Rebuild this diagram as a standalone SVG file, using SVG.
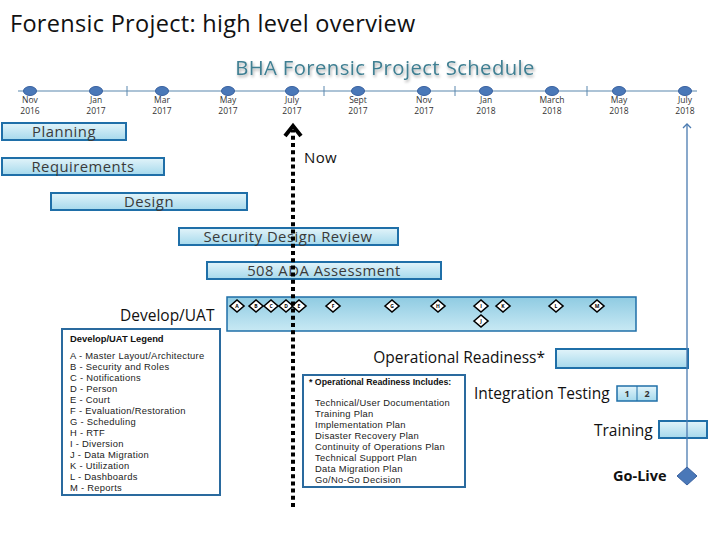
<svg xmlns="http://www.w3.org/2000/svg" width="720" height="540" viewBox="0 0 720 540">
<defs>
<linearGradient id="barG" x1="0" y1="0" x2="0" y2="1">
<stop offset="0" stop-color="#e2f4fa"/><stop offset="1" stop-color="#a6d9ec"/>
</linearGradient>
<linearGradient id="devG" x1="0" y1="0" x2="0" y2="1">
<stop offset="0" stop-color="#8fcbe2"/><stop offset="1" stop-color="#c8e9f4"/>
</linearGradient>
<filter id="sh" x="-10%" y="-30%" width="120%" height="160%">
<feGaussianBlur in="SourceAlpha" stdDeviation="1.5"/><feOffset dx="1" dy="2"/>
<feComponentTransfer><feFuncA type="linear" slope="0.35"/></feComponentTransfer>
<feMerge><feMergeNode/><feMergeNode in="SourceGraphic"/></feMerge>
</filter>
<marker id="openArr" markerWidth="10" markerHeight="10" refX="5" refY="5" orient="auto" markerUnits="userSpaceOnUse">
<path d="M1,1 L5,5 L1,9" fill="none" stroke="#4a7ab0" stroke-width="1.3"/>
</marker>
<symbol id="dia" overflow="visible"><path d="M-7,0 L0,-6 L7,0 L0,6 Z" fill="#fff" stroke="#000" stroke-width="1.6"/></symbol>
</defs>
<style>
text{font-family:"Open Sans","Liberation Sans",Arial,sans-serif;}
.bar{fill:url(#barG);stroke:#1f6fa8;stroke-width:2;}
.bl{font-size:14.8px;fill:#3a3a3a;text-anchor:middle;letter-spacing:0.5px;}
.lab{font-size:15.5px;fill:#111;}
.mo{font-size:8.5px;fill:#333;text-anchor:middle;}
.dot{fill:#4a78b8;stroke:#3a62a0;stroke-width:1;}
.dl{font-size:5px;fill:#000;text-anchor:middle;font-weight:bold;}
.lg{font-family:"Liberation Sans",Arial,sans-serif;font-size:9.4px;fill:#222;letter-spacing:0.28px;}
.lgh{font-family:"Liberation Sans",Arial,sans-serif;font-weight:bold;fill:#111;}
.box{fill:#fff;stroke:#2a6a9e;stroke-width:2;}
</style>
<rect width="720" height="540" fill="#fff"/>
<text x="10" y="32" font-size="23.5" fill="#111" letter-spacing="0.3">Forensic Project: high level overview</text>
<text x="385" y="75" font-size="20.3" fill="#3f7f92" text-anchor="middle" letter-spacing="0.4" filter="url(#sh)">BHA Forensic Project Schedule</text>

<g id="timeline">
<line x1="18" y1="91" x2="697" y2="91" stroke="#5b87ae" stroke-width="1.2"/>
<line x1="127" y1="86" x2="127" y2="96" stroke="#5b87ae" stroke-width="1"/>
<line x1="324" y1="86" x2="324" y2="96" stroke="#5b87ae" stroke-width="1"/>
<line x1="455" y1="86" x2="455" y2="96" stroke="#5b87ae" stroke-width="1"/>
<line x1="587" y1="86" x2="587" y2="96" stroke="#5b87ae" stroke-width="1"/>
<ellipse class="dot" cx="30" cy="91" rx="6.5" ry="4.5"/>
<ellipse class="dot" cx="96" cy="91" rx="6.5" ry="4.5"/>
<ellipse class="dot" cx="162" cy="91" rx="6.5" ry="4.5"/>
<ellipse class="dot" cx="228" cy="91" rx="6.5" ry="4.5"/>
<ellipse class="dot" cx="292" cy="91" rx="6.5" ry="4.5"/>
<ellipse class="dot" cx="358" cy="91" rx="6.5" ry="4.5"/>
<ellipse class="dot" cx="424" cy="91" rx="6.5" ry="4.5"/>
<ellipse class="dot" cx="486" cy="91" rx="6.5" ry="4.5"/>
<ellipse class="dot" cx="552" cy="91" rx="6.5" ry="4.5"/>
<ellipse class="dot" cx="619" cy="91" rx="6.5" ry="4.5"/>
<ellipse class="dot" cx="685" cy="91" rx="6.5" ry="4.5"/>
<text class="mo" x="30" y="103">Nov</text><text class="mo" x="30" y="114">2016</text>
<text class="mo" x="96" y="103">Jan</text><text class="mo" x="96" y="114">2017</text>
<text class="mo" x="162" y="103">Mar</text><text class="mo" x="162" y="114">2017</text>
<text class="mo" x="228" y="103">May</text><text class="mo" x="228" y="114">2017</text>
<text class="mo" x="292" y="103">July</text><text class="mo" x="292" y="114">2017</text>
<text class="mo" x="358" y="103">Sept</text><text class="mo" x="358" y="114">2017</text>
<text class="mo" x="424" y="103">Nov</text><text class="mo" x="424" y="114">2017</text>
<text class="mo" x="486" y="103">Jan</text><text class="mo" x="486" y="114">2018</text>
<text class="mo" x="552" y="103">March</text><text class="mo" x="552" y="114">2018</text>
<text class="mo" x="619" y="103">May</text><text class="mo" x="619" y="114">2018</text>
<text class="mo" x="685" y="103">July</text><text class="mo" x="685" y="114">2018</text>
</g>

<g id="planning"><rect class="bar" x="2" y="123" width="124" height="17"/><text class="bl" x="64" y="137">Planning</text></g>
<g id="requirements"><rect class="bar" x="2" y="158" width="162" height="17"/><text class="bl" x="83" y="172">Requirements</text></g>
<g id="design"><rect class="bar" x="51" y="193" width="196" height="17"/><text class="bl" x="149" y="207">Design</text></g>
<g id="security"><rect class="bar" x="179" y="228" width="219" height="17"/><text class="bl" x="288" y="242">Security Design Review</text></g>
<g id="ada"><rect class="bar" x="207" y="262" width="234" height="17"/><text class="bl" x="324" y="276">508 ADA Assessment</text></g>

<g id="develop">
<text class="lab" x="120" y="321" font-size="16.5">Develop/UAT</text>
<rect x="227" y="297" width="409" height="34" fill="url(#devG)" stroke="#1f6fa8" stroke-width="1.5"/>
<use href="#dia" x="237" y="306"/><text class="dl" x="237" y="308">A</text>
<use href="#dia" x="256" y="306"/><text class="dl" x="256" y="308">B</text>
<use href="#dia" x="271" y="306"/><text class="dl" x="271" y="308">C</text>
<use href="#dia" x="286" y="306"/><text class="dl" x="286" y="308" fill="#8a3a00">D</text>
<use href="#dia" x="299" y="306"/><text class="dl" x="299" y="308" fill="#8a3a00">E</text>
<use href="#dia" x="333" y="306"/><text class="dl" x="333" y="308">F</text>
<use href="#dia" x="392" y="306"/><text class="dl" x="392" y="308">G</text>
<use href="#dia" x="438" y="306"/><text class="dl" x="438" y="308">H</text>
<use href="#dia" x="481" y="306"/><text class="dl" x="481" y="308">I</text>
<use href="#dia" x="503" y="306"/><text class="dl" x="503" y="308">K</text>
<use href="#dia" x="556" y="306"/><text class="dl" x="556" y="308">L</text>
<use href="#dia" x="597" y="306"/><text class="dl" x="597" y="308">M</text>
<use href="#dia" x="481" y="321"/><text class="dl" x="481" y="323">J</text>
</g>

<g id="legend">
<rect class="box" x="62" y="329" width="158" height="166"/>
<text class="lgh" x="70" y="342" font-size="9.4">Develop/UAT Legend</text>
<text class="lg" x="70" y="359">A - Master Layout/Architecture</text>
<text class="lg" x="70" y="370">B - Security and Roles</text>
<text class="lg" x="70" y="381">C - Notifications</text>
<text class="lg" x="70" y="392">D - Person</text>
<text class="lg" x="70" y="403">E - Court</text>
<text class="lg" x="70" y="414">F - Evaluation/Restoration</text>
<text class="lg" x="70" y="425">G - Scheduling</text>
<text class="lg" x="70" y="436">H - RTF</text>
<text class="lg" x="70" y="447">I - Diversion</text>
<text class="lg" x="70" y="458">J - Data Migration</text>
<text class="lg" x="70" y="469">K - Utilization</text>
<text class="lg" x="70" y="480">L - Dashboards</text>
<text class="lg" x="70" y="491">M - Reports</text>
</g>

<g id="opready">
<text class="lab" x="545" y="363" text-anchor="end">Operational Readiness*</text>
<rect x="556" y="349" width="132" height="19" fill="url(#barG)" stroke="#1f6fa8" stroke-width="2"/>
</g>

<g id="oplist">
<rect class="box" x="303" y="375" width="162" height="112"/>
<text class="lgh" x="309" y="385" font-size="8.8">* Operational Readiness Includes:</text>
<text class="lg" x="315" y="406">Technical/User Documentation</text>
<text class="lg" x="315" y="417">Training Plan</text>
<text class="lg" x="315" y="428">Implementation Plan</text>
<text class="lg" x="315" y="439">Disaster Recovery Plan</text>
<text class="lg" x="315" y="450">Continuity of Operations Plan</text>
<text class="lg" x="315" y="461">Technical Support Plan</text>
<text class="lg" x="315" y="472">Data Migration Plan</text>
<text class="lg" x="315" y="483">Go/No-Go Decision</text>
</g>

<g id="integration">
<text class="lab" x="474" y="399">Integration Testing</text>
<rect x="617" y="386" width="40" height="15" fill="url(#barG)" stroke="#1f6fa8" stroke-width="1.5"/>
<line x1="637" y1="386" x2="637" y2="401" stroke="#1f6fa8" stroke-width="1"/>
<text x="627" y="397" font-size="9" text-anchor="middle" font-weight="bold" fill="#333">1</text>
<text x="647" y="397" font-size="9" text-anchor="middle" font-weight="bold" fill="#333">2</text>
</g>

<g id="training">
<text class="lab" x="594" y="436">Training</text>
<rect x="659" y="421" width="48" height="17" fill="url(#barG)" stroke="#1f6fa8" stroke-width="2"/>
</g>

<g id="connectors">
<line x1="687" y1="470" x2="687" y2="124" stroke="#4a7ab0" stroke-width="1.3" marker-end="url(#openArr)"/>
<line x1="293" y1="507" x2="293" y2="130" stroke="#000" stroke-width="4" stroke-dasharray="4,3.2"/>
<polyline points="285,136 293,126 301,136" fill="none" stroke="#000" stroke-width="4"/>
</g>

<g id="now"><text x="304" y="163" font-size="15" fill="#111" letter-spacing="0.4">Now</text></g>

<g id="golive">
<text x="613" y="481" font-size="14.5" font-weight="bold" fill="#111">Go-Live</text>
<path d="M687,467 L697,476 L687,485 L677,476 Z" fill="#4a78b8" stroke="#3a62a0" stroke-width="1"/>
</g>
</svg>
